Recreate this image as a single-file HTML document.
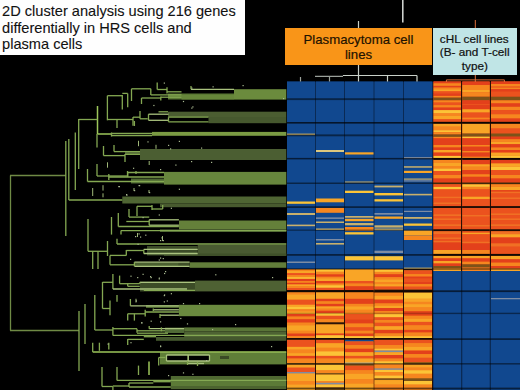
<!DOCTYPE html>
<html><head><meta charset="utf-8">
<style>
html,body{margin:0;padding:0;background:#000;}
body{width:520px;height:390px;position:relative;overflow:hidden;font-family:"Liberation Sans",sans-serif;}
.abs{position:absolute;}
#title{left:0;top:0;width:245.3px;height:55.4px;background:#fefefe;}
#title div{position:absolute;left:2.1px;font-size:14.6px;color:#111;white-space:nowrap;line-height:17px;-webkit-text-stroke:0.1px #111;}
#pbox{left:285px;top:27.8px;width:147px;height:36.8px;background:#f99518;color:#1e1200;-webkit-text-stroke:0.2px #1e1200;font-size:13.2px;text-align:center;line-height:15px;}
#cbox{left:433px;top:28px;width:83.5px;height:47px;background:#c0e5e6;color:#111;-webkit-text-stroke:0.2px #111;font-size:10.7px;text-align:center;line-height:13.6px;}
#cbox span{display:inline-block;transform:scaleX(1.1);transform-origin:50% 50%;white-space:nowrap;}
svg{position:absolute;left:0;top:0;}
</style></head><body>
<svg width="520" height="390" viewBox="0 0 520 390">
<g id="dend">
<rect x="168.0" y="93.5" width="66.0" height="6.0" fill="#5b7934"/>
<rect x="234.0" y="89.2" width="52.3" height="10.4" fill="#6b8b3d"/>
<rect x="181.5" y="95.0" width="52.5" height="4.5" fill="#66863a"/>
<rect x="168.0" y="111.7" width="118.3" height="5.3" fill="#4b5d31"/>
<rect x="208.5" y="117.0" width="77.8" height="6.2" fill="#46582e"/>
<rect x="152.0" y="131.9" width="134.3" height="3.9" fill="#7a9a42"/>
<rect x="140.0" y="149.0" width="146.3" height="11.0" fill="#4b5e32"/>
<rect x="125.0" y="152.0" width="15.0" height="3.0" fill="#4a5d30"/>
<rect x="131.0" y="178.5" width="33.0" height="5.0" fill="#4d6632"/>
<rect x="164.0" y="171.9" width="122.3" height="12.7" fill="#67863d"/>
<rect x="122.3" y="196.5" width="164.0" height="7.0" fill="#4f6533"/>
<rect x="160.0" y="203.5" width="126.3" height="3.7" fill="#485a2f"/>
<rect x="179.0" y="220.5" width="107.3" height="9.0" fill="#64803a"/>
<rect x="160.0" y="229.5" width="126.3" height="2.3" fill="#58723a"/>
<rect x="147.0" y="246.0" width="50.7" height="9.5" fill="#3c4c28"/>
<rect x="197.7" y="244.8" width="88.6" height="10.7" fill="#495a31"/>
<rect x="164.0" y="253.5" width="122.3" height="2.5" fill="#3f5029"/>
<rect x="189.6" y="262.3" width="96.7" height="5.5" fill="#627d3a"/>
<rect x="178.9" y="262.5" width="10.7" height="3.5" fill="#3f5029"/>
<rect x="134.4" y="262.5" width="44.5" height="3.5" fill="#4a6030"/>
<rect x="140.0" y="281.5" width="55.0" height="10.0" fill="#3c4c27"/>
<rect x="195.0" y="280.6" width="91.3" height="10.8" fill="#4e6133"/>
<rect x="178.9" y="304.8" width="107.4" height="11.4" fill="#6a8a3f"/>
<rect x="146.0" y="305.2" width="32.9" height="2.6" fill="#5f7d38"/>
<rect x="165.0" y="327.6" width="19.2" height="5.4" fill="#506a35"/>
<rect x="184.2" y="327.4" width="102.1" height="4.1" fill="#597437"/>
<rect x="184.2" y="331.5" width="102.1" height="5.5" fill="#4e6333"/>
<rect x="156.0" y="337.0" width="130.3" height="3.8" fill="#44572d"/>
<rect x="160.0" y="352.2" width="126.3" height="12.2" fill="#5f7e38"/>
<rect x="167.0" y="355.0" width="20.5" height="6.0" fill="#000000"/>
<rect x="189.0" y="355.0" width="20.0" height="6.0" fill="#000000"/>
<rect x="220.0" y="356.0" width="9.0" height="3.0" fill="#3a4a25"/>
<rect x="170.8" y="376.0" width="115.5" height="4.0" fill="#4f6832"/>
<rect x="170.8" y="380.0" width="115.5" height="6.0" fill="#5c7a37"/>
<rect x="170.8" y="386.0" width="115.5" height="3.2" fill="#4c632f"/>
<path d="M107.4 95.7V120.3" stroke="#84a852" stroke-width="1.3"/>
<path d="M107.4 95.7H122.3" stroke="#84a852" stroke-width="1.3"/>
<path d="M122.3 95.0V109.5" stroke="#84a852" stroke-width="1.3"/>
<path d="M122.3 93.4H127.7" stroke="#84a852" stroke-width="1.3"/>
<path d="M127.7 93.4V107.2" stroke="#84a852" stroke-width="1.3"/>
<path d="M131.5 88.8V101.0" stroke="#84a852" stroke-width="1.3"/>
<path d="M131.5 88.8H150.8" stroke="#84a852" stroke-width="1.3"/>
<path d="M150.8 88.8V95.0" stroke="#84a852" stroke-width="1.3"/>
<path d="M150.8 94.9H181.5" stroke="#84a852" stroke-width="1.3"/>
<path d="M157.2 82.6V89.5" stroke="#84a852" stroke-width="1.3"/>
<path d="M157.2 89.5H167.0" stroke="#84a852" stroke-width="1.3"/>
<path d="M167.0 87.2V93.4" stroke="#84a852" stroke-width="1.3"/>
<path d="M167.0 91.8H181.5" stroke="#84a852" stroke-width="1.3"/>
<path d="M141.5 98.0V104.0" stroke="#84a852" stroke-width="1.3"/>
<path d="M141.5 98.0H160.8" stroke="#84a852" stroke-width="1.3"/>
<path d="M160.8 96.5V100.5" stroke="#84a852" stroke-width="1.3"/>
<path d="M160.8 97.2H181.5" stroke="#84a852" stroke-width="1.3"/>
<path d="M107.4 119.5H133.0" stroke="#84a852" stroke-width="1.3"/>
<path d="M117.0 119.5V128.0" stroke="#84a852" stroke-width="1.3"/>
<path d="M133.0 117.0V125.7" stroke="#84a852" stroke-width="1.3"/>
<path d="M133.0 117.2H140.0" stroke="#84a852" stroke-width="1.3"/>
<path d="M140.0 111.0V118.8" stroke="#84a852" stroke-width="1.3"/>
<path d="M140.0 118.8H147.7" stroke="#84a852" stroke-width="1.3"/>
<path d="M148.5 114.2V120.3" stroke="#84a852" stroke-width="1.3"/>
<path d="M148.5 114.2H168.5" stroke="#a9c27e" stroke-width="1.3"/>
<path d="M148.5 120.3H168.5" stroke="#a9c27e" stroke-width="1.3"/>
<path d="M168.5 117.2V121.8" stroke="#84a852" stroke-width="1.3"/>
<path d="M168.5 117.2H208.5" stroke="#84a852" stroke-width="1.3"/>
<path d="M168.5 121.8H208.5" stroke="#84a852" stroke-width="1.3"/>
<path d="M158.5 111.8H168.0" stroke="#84a852" stroke-width="1.3"/>
<path d="M10.5 175.5V330.5" stroke="#6f8a45" stroke-width="1.3"/>
<path d="M10.0 175.5H65.8" stroke="#6f8a45" stroke-width="1.3"/>
<path d="M10.0 330.5H79.0" stroke="#6f8a45" stroke-width="1.3"/>
<path d="M65.8 141.0V236.0" stroke="#84a852" stroke-width="1.3"/>
<path d="M68.8 139.0V200.0" stroke="#84a852" stroke-width="1.3"/>
<path d="M75.3 132.5V190.0" stroke="#84a852" stroke-width="1.3"/>
<path d="M78.7 119.0V169.0" stroke="#84a852" stroke-width="1.3"/>
<path d="M87.5 169.0V181.5" stroke="#84a852" stroke-width="1.3"/>
<path d="M87.5 181.5H164.0" stroke="#84a852" stroke-width="1.3"/>
<path d="M97.5 106.0V134.0" stroke="#9cc65a" stroke-width="1.5"/>
<path d="M97.0 134.0V147.4" stroke="#84a852" stroke-width="1.3"/>
<path d="M78.7 119.5H97.5" stroke="#84a852" stroke-width="1.3"/>
<path d="M97.5 134.0H111.5" stroke="#9cc65a" stroke-width="1.5"/>
<path d="M111.5 132.5V136.5" stroke="#84a852" stroke-width="1.3"/>
<path d="M111.5 133.3H152.0" stroke="#84a852" stroke-width="1.3"/>
<path d="M111.5 135.5H152.0" stroke="#84a852" stroke-width="1.3"/>
<path d="M97.0 164.0V176.0" stroke="#84a852" stroke-width="1.3"/>
<path d="M97.0 176.0H127.7" stroke="#84a852" stroke-width="1.3"/>
<path d="M127.7 172.5V177.0" stroke="#84a852" stroke-width="1.3"/>
<path d="M127.7 172.5H164.0" stroke="#84a852" stroke-width="1.3"/>
<path d="M108.8 177.0H164.0" stroke="#84a852" stroke-width="1.3"/>
<path d="M108.8 174.0V180.0" stroke="#84a852" stroke-width="1.3"/>
<path d="M191.0 89.3H234.0" stroke="#a9c27e" stroke-width="1.3"/>
<path d="M191.0 86.0V89.3" stroke="#84a852" stroke-width="1.3"/>
<path d="M103.5 146.0V155.6" stroke="#84a852" stroke-width="1.3"/>
<path d="M103.5 155.6H125.0" stroke="#84a852" stroke-width="1.3"/>
<path d="M125.0 154.0V162.0" stroke="#84a852" stroke-width="1.3"/>
<path d="M125.0 154.3H140.0" stroke="#84a852" stroke-width="1.3"/>
<path d="M114.0 145.0V151.6" stroke="#84a852" stroke-width="1.3"/>
<path d="M114.0 151.6H140.0" stroke="#84a852" stroke-width="1.3"/>
<path d="M134.4 121.0V126.0" stroke="#84a852" stroke-width="1.3"/>
<path d="M68.8 200.0H122.3" stroke="#84a852" stroke-width="1.3"/>
<path d="M127.5 171.0V176.0" stroke="#84a852" stroke-width="1.3"/>
<path d="M136.0 171.0V174.0" stroke="#84a852" stroke-width="1.3"/>
<path d="M137.0 206.3V216.0" stroke="#84a852" stroke-width="1.3"/>
<path d="M137.0 206.3H152.0" stroke="#84a852" stroke-width="1.3"/>
<path d="M152.0 205.0V210.0" stroke="#84a852" stroke-width="1.3"/>
<path d="M152.0 209.0H162.7" stroke="#84a852" stroke-width="1.3"/>
<path d="M162.7 205.0V209.0" stroke="#84a852" stroke-width="1.3"/>
<path d="M129.0 209.0V217.0" stroke="#84a852" stroke-width="1.3"/>
<path d="M118.3 213.0V226.5" stroke="#84a852" stroke-width="1.3"/>
<path d="M111.5 217.0V234.6" stroke="#84a852" stroke-width="1.3"/>
<path d="M129.0 217.1H149.2" stroke="#84a852" stroke-width="1.3"/>
<path d="M149.2 219.8V225.2" stroke="#84a852" stroke-width="1.3"/>
<path d="M149.2 219.8H178.9" stroke="#a9c27e" stroke-width="1.3"/>
<path d="M149.2 225.2H178.9" stroke="#a9c27e" stroke-width="1.3"/>
<path d="M126.3 221.5H149.2" stroke="#84a852" stroke-width="1.3"/>
<path d="M118.3 226.5H178.9" stroke="#84a852" stroke-width="1.3"/>
<path d="M121.0 230.6H286.3" stroke="#84a852" stroke-width="1.3"/>
<path d="M121.0 230.6V234.6" stroke="#84a852" stroke-width="1.3"/>
<path d="M117.0 238.7V244.0" stroke="#84a852" stroke-width="1.3"/>
<path d="M117.0 244.0H286.3" stroke="#84a852" stroke-width="1.3"/>
<path d="M143.8 249.4V253.5" stroke="#84a852" stroke-width="1.3"/>
<path d="M143.8 249.4H197.7" stroke="#a9c27e" stroke-width="1.3"/>
<path d="M143.8 253.5H197.7" stroke="#a9c27e" stroke-width="1.3"/>
<path d="M107.5 241.0V256.0" stroke="#84a852" stroke-width="1.3"/>
<path d="M88.0 251.3H107.5" stroke="#84a852" stroke-width="1.3"/>
<path d="M88.0 219.0V251.3" stroke="#84a852" stroke-width="1.3"/>
<path d="M92.7 251.0V269.0" stroke="#84a852" stroke-width="1.3"/>
<path d="M98.0 251.0V269.0" stroke="#84a852" stroke-width="1.3"/>
<path d="M110.0 255.4H126.3" stroke="#84a852" stroke-width="1.3"/>
<path d="M110.0 255.4V264.8" stroke="#84a852" stroke-width="1.3"/>
<path d="M126.3 250.0V255.4" stroke="#84a852" stroke-width="1.3"/>
<path d="M126.3 250.5H143.8" stroke="#84a852" stroke-width="1.3"/>
<path d="M110.0 264.8H134.4" stroke="#84a852" stroke-width="1.3"/>
<path d="M134.4 262.1H189.6" stroke="#a9c27e" stroke-width="1.3"/>
<path d="M134.4 266.3H189.6" stroke="#a9c27e" stroke-width="1.3"/>
<path d="M134.4 262.1V266.3" stroke="#84a852" stroke-width="1.3"/>
<path d="M79.0 311.0V371.0" stroke="#84a852" stroke-width="1.3"/>
<path d="M85.0 304.0V344.0" stroke="#84a852" stroke-width="1.3"/>
<path d="M94.8 295.0V330.0" stroke="#84a852" stroke-width="1.3"/>
<path d="M94.8 330.0H112.9" stroke="#84a852" stroke-width="1.3"/>
<path d="M102.5 282.0V308.5" stroke="#84a852" stroke-width="1.3"/>
<path d="M102.5 282.3H112.9" stroke="#84a852" stroke-width="1.3"/>
<path d="M102.5 308.5H110.0" stroke="#84a852" stroke-width="1.3"/>
<path d="M112.9 274.0V289.0" stroke="#84a852" stroke-width="1.3"/>
<path d="M119.6 275.6V283.7" stroke="#84a852" stroke-width="1.3"/>
<path d="M119.6 283.7H139.8" stroke="#84a852" stroke-width="1.3"/>
<path d="M139.8 282.3H195.0" stroke="#a9c27e" stroke-width="1.3"/>
<path d="M139.8 282.3V283.7" stroke="#84a852" stroke-width="1.3"/>
<path d="M127.7 286.3H139.8" stroke="#84a852" stroke-width="1.3"/>
<path d="M127.7 283.7V286.3" stroke="#84a852" stroke-width="1.3"/>
<path d="M112.9 289.0H187.0" stroke="#a9c27e" stroke-width="1.3"/>
<path d="M143.8 290.4H195.0" stroke="#84a852" stroke-width="1.3"/>
<path d="M110.0 300.4V315.2" stroke="#84a852" stroke-width="1.3"/>
<path d="M117.0 295.0V301.7" stroke="#84a852" stroke-width="1.3"/>
<path d="M130.4 299.0V305.8" stroke="#84a852" stroke-width="1.3"/>
<path d="M130.4 305.8H178.9" stroke="#a9c27e" stroke-width="1.3"/>
<path d="M153.3 309.8H178.9" stroke="#a9c27e" stroke-width="1.3"/>
<path d="M153.3 308.5V311.0" stroke="#84a852" stroke-width="1.3"/>
<path d="M145.2 312.0H178.9" stroke="#84a852" stroke-width="1.3"/>
<path d="M145.2 309.8V316.5" stroke="#84a852" stroke-width="1.3"/>
<path d="M160.0 315.2H178.9" stroke="#a9c27e" stroke-width="1.3"/>
<path d="M160.0 314.0V318.0" stroke="#84a852" stroke-width="1.3"/>
<path d="M127.7 313.8V320.6" stroke="#84a852" stroke-width="1.3"/>
<path d="M134.4 313.8V320.6" stroke="#84a852" stroke-width="1.3"/>
<path d="M127.7 313.8H145.2" stroke="#84a852" stroke-width="1.3"/>
<path d="M112.9 327.0V335.4" stroke="#84a852" stroke-width="1.3"/>
<path d="M112.9 328.7H137.0" stroke="#84a852" stroke-width="1.3"/>
<path d="M137.0 328.7V332.7" stroke="#84a852" stroke-width="1.3"/>
<path d="M149.2 328.7H184.2" stroke="#a9c27e" stroke-width="1.3"/>
<path d="M149.2 326.0V328.7" stroke="#84a852" stroke-width="1.3"/>
<path d="M137.0 330.8H165.0" stroke="#84a852" stroke-width="1.3"/>
<path d="M137.0 333.2H168.0" stroke="#84a852" stroke-width="1.3"/>
<path d="M161.4 327.3V331.3" stroke="#84a852" stroke-width="1.3"/>
<path d="M112.9 335.4H286.3" stroke="#84a852" stroke-width="1.3"/>
<path d="M143.8 336.7H156.0" stroke="#84a852" stroke-width="1.3"/>
<path d="M127.7 339.0V345.0" stroke="#84a852" stroke-width="1.3"/>
<path d="M127.7 339.4H143.8" stroke="#84a852" stroke-width="1.3"/>
<path d="M92.7 352.1H286.3" stroke="#9cc65a" stroke-width="1.5"/>
<path d="M92.7 342.7V352.1" stroke="#84a852" stroke-width="1.3"/>
<path d="M99.4 342.7V350.8" stroke="#84a852" stroke-width="1.3"/>
<path d="M108.8 342.7V349.4" stroke="#84a852" stroke-width="1.3"/>
<path d="M158.7 357.5V365.6" stroke="#84a852" stroke-width="1.3"/>
<path d="M158.7 357.5H165.4" stroke="#84a852" stroke-width="1.3"/>
<path d="M149.0 361.5V375.0" stroke="#9cc65a" stroke-width="1.5"/>
<path d="M166.5 355.0H209.5" stroke="#a9c27e" stroke-width="1.3"/>
<path d="M166.5 361.0H209.5" stroke="#a9c27e" stroke-width="1.3"/>
<path d="M166.5 355.0V361.0" stroke="#a9c27e" stroke-width="1.3"/>
<path d="M188.2 355.0V361.0" stroke="#a9c27e" stroke-width="1.3"/>
<path d="M209.5 355.0V361.0" stroke="#a9c27e" stroke-width="1.3"/>
<path d="M187.5 363.5H204.0" stroke="#a9c27e" stroke-width="1.3"/>
<path d="M187.5 361.0V365.0" stroke="#84a852" stroke-width="1.3"/>
<path d="M197.5 362.0V366.0" stroke="#84a852" stroke-width="1.3"/>
<path d="M102.0 367.0V386.5" stroke="#84a852" stroke-width="1.3"/>
<path d="M102.0 386.5H112.9" stroke="#84a852" stroke-width="1.3"/>
<path d="M117.0 367.0V380.4" stroke="#84a852" stroke-width="1.3"/>
<path d="M117.0 380.4H286.3" stroke="#84a852" stroke-width="1.3"/>
<path d="M138.5 365.6V375.0" stroke="#84a852" stroke-width="1.3"/>
<path d="M112.9 386.5V390.0" stroke="#84a852" stroke-width="1.3"/>
<path d="M129.0 383.0H153.3" stroke="#84a852" stroke-width="1.3"/>
<path d="M129.0 387.0H170.8" stroke="#84a852" stroke-width="1.3"/>
<path d="M129.0 383.0V387.0" stroke="#84a852" stroke-width="1.3"/>
<path d="M153.3 381.7H170.8" stroke="#84a852" stroke-width="1.3"/>
<path d="M112.9 386.0H129.0" stroke="#84a852" stroke-width="1.3"/>
<path d="M138.5 140.8V146.2" stroke="#9fb878" stroke-width="1"/>
<path d="M156.0 144.8V148.8" stroke="#9fb878" stroke-width="1"/>
<path d="M107.5 162.3V167.7" stroke="#9fb878" stroke-width="1"/>
<path d="M149.2 161.0V165.0" stroke="#9fb878" stroke-width="1"/>
<path d="M92.7 188.0V196.0" stroke="#9fb878" stroke-width="1"/>
<path d="M103.0 185.2V190.6" stroke="#9fb878" stroke-width="1"/>
<path d="M103.0 193.3V197.3" stroke="#9fb878" stroke-width="1"/>
<path d="M134.0 188.0V191.0" stroke="#9fb878" stroke-width="1"/>
<path d="M149.0 190.0V193.0" stroke="#9fb878" stroke-width="1"/>
<path d="M136.0 298.75V302.5" stroke="#9fb878" stroke-width="1"/>
<path d="M162.5 236.0V241.0" stroke="#9fb878" stroke-width="1"/>
<path d="M137.5 233.0V237.0" stroke="#9fb878" stroke-width="1"/>
<rect x="163.75" y="82.5" width="1.2" height="1.2" fill="#a8b890"/>
<rect x="191.25" y="87.5" width="1.2" height="1.2" fill="#a8b890"/>
<rect x="212.5" y="86.25" width="1.2" height="1.2" fill="#a8b890"/>
<rect x="242.5" y="85" width="1.2" height="1.2" fill="#a8b890"/>
<rect x="191.25" y="107.5" width="1.2" height="1.2" fill="#a8b890"/>
<rect x="153.3" y="104.9" width="1.2" height="1.2" fill="#a8b890"/>
<rect x="182.9" y="100.9" width="1.2" height="1.2" fill="#a8b890"/>
<rect x="192.3" y="106.3" width="1.2" height="1.2" fill="#a8b890"/>
<rect x="147.4" y="141.3" width="1.2" height="1.2" fill="#a8b890"/>
<rect x="168" y="144.8" width="1.2" height="1.2" fill="#a8b890"/>
<rect x="170" y="148.3" width="1.2" height="1.2" fill="#a8b890"/>
<rect x="178.8" y="140.8" width="1.2" height="1.2" fill="#a8b890"/>
<rect x="201" y="147.5" width="1.2" height="1.2" fill="#a8b890"/>
<rect x="191" y="161" width="1.2" height="1.2" fill="#a8b890"/>
<rect x="175.3" y="164.5" width="1.2" height="1.2" fill="#a8b890"/>
<rect x="211" y="161.8" width="1.2" height="1.2" fill="#a8b890"/>
<rect x="133" y="167.7" width="1.2" height="1.2" fill="#a8b890"/>
<rect x="160" y="169" width="1.2" height="1.2" fill="#a8b890"/>
<rect x="118.3" y="186" width="1.2" height="1.2" fill="#a8b890"/>
<rect x="138.5" y="185" width="1.2" height="1.2" fill="#a8b890"/>
<rect x="126.3" y="194.6" width="1.2" height="1.2" fill="#a8b890"/>
<rect x="149" y="192" width="1.2" height="1.2" fill="#a8b890"/>
<rect x="178.8" y="188.7" width="1.2" height="1.2" fill="#a8b890"/>
<rect x="118.75" y="186" width="1.2" height="1.2" fill="#a8b890"/>
<rect x="126" y="194" width="1.2" height="1.2" fill="#a8b890"/>
<rect x="134" y="190" width="1.2" height="1.2" fill="#a8b890"/>
<rect x="139" y="185" width="1.2" height="1.2" fill="#a8b890"/>
<rect x="142.5" y="217" width="1.2" height="1.2" fill="#a8b890"/>
<rect x="158.7" y="214.4" width="1.2" height="1.2" fill="#a8b890"/>
<rect x="170.8" y="207.7" width="1.2" height="1.2" fill="#a8b890"/>
<rect x="138.5" y="233.3" width="1.2" height="1.2" fill="#a8b890"/>
<rect x="161.4" y="237.3" width="1.2" height="1.2" fill="#a8b890"/>
<rect x="162.7" y="240" width="1.2" height="1.2" fill="#a8b890"/>
<rect x="145.2" y="234.6" width="1.2" height="1.2" fill="#a8b890"/>
<rect x="135" y="236" width="1.2" height="1.2" fill="#a8b890"/>
<rect x="140" y="236.5" width="1.2" height="1.2" fill="#a8b890"/>
<rect x="160" y="240" width="1.2" height="1.2" fill="#a8b890"/>
<rect x="137.5" y="243.75" width="1.2" height="1.2" fill="#a8b890"/>
<rect x="160" y="257.5" width="1.2" height="1.2" fill="#a8b890"/>
<rect x="130" y="258.75" width="1.2" height="1.2" fill="#a8b890"/>
<rect x="142.5" y="273.75" width="1.2" height="1.2" fill="#a8b890"/>
<rect x="150" y="276" width="1.2" height="1.2" fill="#a8b890"/>
<rect x="158.75" y="277.5" width="1.2" height="1.2" fill="#a8b890"/>
<rect x="165" y="271" width="1.2" height="1.2" fill="#a8b890"/>
<rect x="130.4" y="275.6" width="1.2" height="1.2" fill="#a8b890"/>
<rect x="137.1" y="277" width="1.2" height="1.2" fill="#a8b890"/>
<rect x="150.6" y="277" width="1.2" height="1.2" fill="#a8b890"/>
<rect x="158.7" y="278.3" width="1.2" height="1.2" fill="#a8b890"/>
<rect x="162.7" y="258" width="1.2" height="1.2" fill="#a8b890"/>
<rect x="158.7" y="259.4" width="1.2" height="1.2" fill="#a8b890"/>
<rect x="164" y="272.9" width="1.2" height="1.2" fill="#a8b890"/>
<rect x="215.2" y="274.2" width="1.2" height="1.2" fill="#a8b890"/>
<rect x="164" y="294.4" width="1.2" height="1.2" fill="#a8b890"/>
<rect x="170.8" y="293.1" width="1.2" height="1.2" fill="#a8b890"/>
<rect x="163.75" y="295" width="1.2" height="1.2" fill="#a8b890"/>
<rect x="163.75" y="301.25" width="1.2" height="1.2" fill="#a8b890"/>
<rect x="141.25" y="322.5" width="1.2" height="1.2" fill="#a8b890"/>
<rect x="160" y="321.25" width="1.2" height="1.2" fill="#a8b890"/>
<rect x="135.8" y="300.4" width="1.2" height="1.2" fill="#a8b890"/>
<rect x="166.7" y="300.4" width="1.2" height="1.2" fill="#a8b890"/>
<rect x="182.9" y="303" width="1.2" height="1.2" fill="#a8b890"/>
<rect x="199" y="303" width="1.2" height="1.2" fill="#a8b890"/>
<rect x="141.2" y="322" width="1.2" height="1.2" fill="#a8b890"/>
<rect x="150.6" y="320.6" width="1.2" height="1.2" fill="#a8b890"/>
<rect x="180.2" y="317.9" width="1.2" height="1.2" fill="#a8b890"/>
<rect x="186.9" y="323.3" width="1.2" height="1.2" fill="#a8b890"/>
<rect x="107.5" y="343.5" width="1.2" height="1.2" fill="#a8b890"/>
<rect x="130.4" y="342.1" width="1.2" height="1.2" fill="#a8b890"/>
<rect x="160" y="346" width="1.2" height="1.2" fill="#a8b890"/>
<rect x="182.9" y="372.3" width="1.2" height="1.2" fill="#a8b890"/>
<rect x="192.3" y="373.7" width="1.2" height="1.2" fill="#a8b890"/>
<rect x="168" y="375" width="1.2" height="1.2" fill="#a8b890"/>
<rect x="160" y="345.4" width="1.2" height="1.2" fill="#a8b890"/>
<rect x="271" y="346" width="1.2" height="1.2" fill="#a8b890"/>
<rect x="206" y="360" width="1.2" height="1.2" fill="#a8b890"/>
<rect x="235" y="324" width="1.2" height="1.2" fill="#a8b890"/>
<rect x="212" y="329" width="1.2" height="1.2" fill="#a8b890"/>
<rect x="272" y="277" width="1.2" height="1.2" fill="#a8b890"/>
<rect x="283" y="98" width="1.2" height="1.2" fill="#a8b890"/>
</g>
<g id="heat">
<rect x="287.0" y="81.50" width="146.0" height="187.50" fill="#0a2a55"/>
<rect x="287.0" y="269.00" width="146.0" height="121.00" fill="#2a1005"/>
<rect x="433.0" y="81.50" width="87.0" height="189.50" fill="#2a1005"/>
<rect x="433.0" y="271.00" width="87.0" height="119.00" fill="#0a2a55"/>
<rect x="287.0" y="81.50" width="28.0" height="187.50" fill="#11488f"/>
<rect x="287.0" y="269.00" width="28.0" height="121.00" fill="#f6861f"/>
<rect x="316.0" y="81.50" width="28.0" height="187.50" fill="#11488f"/>
<rect x="316.0" y="269.00" width="28.0" height="121.00" fill="#f6861f"/>
<rect x="345.0" y="81.50" width="28.5" height="187.50" fill="#11488f"/>
<rect x="345.0" y="269.00" width="28.5" height="121.00" fill="#f6861f"/>
<rect x="374.5" y="81.50" width="28.5" height="187.50" fill="#11488f"/>
<rect x="374.5" y="269.00" width="28.5" height="121.00" fill="#f6861f"/>
<rect x="404.0" y="81.50" width="28.0" height="187.50" fill="#11488f"/>
<rect x="404.0" y="269.00" width="28.0" height="121.00" fill="#f6861f"/>
<rect x="433.5" y="81.50" width="27.5" height="189.50" fill="#eb521e"/>
<rect x="433.5" y="271.00" width="27.5" height="119.00" fill="#11488f"/>
<rect x="462.3" y="81.50" width="27.4" height="189.50" fill="#eb521e"/>
<rect x="462.3" y="271.00" width="27.4" height="119.00" fill="#11488f"/>
<rect x="491.0" y="81.50" width="29.0" height="189.50" fill="#eb521e"/>
<rect x="491.0" y="271.00" width="29.0" height="119.00" fill="#11488f"/>
<rect x="433.5" y="81.50" width="27.5" height="1.80" fill="#e3401b"/>
<rect x="433.5" y="83.30" width="27.5" height="2.60" fill="#f6861f"/>
<rect x="433.5" y="85.90" width="27.5" height="1.60" fill="#e3401b"/>
<rect x="433.5" y="87.50" width="27.5" height="1.70" fill="#f6861f"/>
<rect x="433.5" y="89.20" width="27.5" height="2.20" fill="#f9a526"/>
<rect x="433.5" y="91.40" width="27.5" height="2.10" fill="#eb521e"/>
<rect x="433.5" y="93.50" width="27.5" height="2.40" fill="#e3401b"/>
<rect x="433.5" y="95.90" width="27.5" height="1.70" fill="#f6861f"/>
<rect x="433.5" y="97.60" width="27.5" height="2.80" fill="#7d5218"/>
<rect x="433.5" y="100.40" width="27.5" height="2.20" fill="#f6861f"/>
<rect x="433.5" y="102.60" width="27.5" height="2.50" fill="#eb521e"/>
<rect x="433.5" y="105.10" width="27.5" height="2.50" fill="#f6861f"/>
<rect x="433.5" y="107.60" width="27.5" height="2.50" fill="#e3401b"/>
<rect x="433.5" y="110.10" width="27.5" height="3.40" fill="#fcc437"/>
<rect x="433.5" y="113.50" width="27.5" height="2.50" fill="#f6861f"/>
<rect x="433.5" y="116.00" width="27.5" height="3.30" fill="#f9a526"/>
<rect x="433.5" y="119.30" width="27.5" height="2.50" fill="#eb521e"/>
<rect x="433.5" y="121.80" width="27.5" height="2.00" fill="#2c1408"/>
<rect x="433.5" y="123.80" width="27.5" height="3.00" fill="#f9a526"/>
<rect x="433.5" y="126.80" width="27.5" height="3.40" fill="#f6861f"/>
<rect x="433.5" y="130.20" width="27.5" height="2.00" fill="#fcc437"/>
<rect x="433.5" y="132.20" width="27.5" height="2.20" fill="#f6861f"/>
<rect x="433.5" y="134.40" width="27.5" height="2.50" fill="#7d5218"/>
<rect x="433.5" y="136.90" width="27.5" height="1.40" fill="#f6861f"/>
<rect x="433.5" y="138.30" width="27.5" height="6.70" fill="#e3401b"/>
<rect x="433.5" y="145.00" width="27.5" height="2.50" fill="#f6861f"/>
<rect x="433.5" y="147.50" width="27.5" height="2.50" fill="#e3401b"/>
<rect x="433.5" y="150.00" width="27.5" height="2.60" fill="#f9a526"/>
<rect x="433.5" y="152.60" width="27.5" height="3.30" fill="#e3401b"/>
<rect x="433.5" y="155.90" width="27.5" height="2.10" fill="#fcc437"/>
<rect x="433.5" y="158.00" width="27.5" height="2.00" fill="#2c1408"/>
<rect x="433.5" y="160.00" width="27.5" height="2.60" fill="#f6861f"/>
<rect x="433.5" y="162.60" width="27.5" height="3.40" fill="#f9a526"/>
<rect x="433.5" y="166.00" width="27.5" height="2.50" fill="#f6861f"/>
<rect x="433.5" y="168.50" width="27.5" height="2.50" fill="#fcc437"/>
<rect x="433.5" y="171.00" width="27.5" height="4.00" fill="#eb521e"/>
<rect x="433.5" y="175.00" width="27.5" height="3.50" fill="#f6861f"/>
<rect x="433.5" y="178.50" width="27.5" height="4.20" fill="#e3401b"/>
<rect x="433.5" y="182.70" width="27.5" height="1.70" fill="#7d5218"/>
<rect x="433.5" y="184.40" width="27.5" height="2.50" fill="#eb521e"/>
<rect x="433.5" y="186.90" width="27.5" height="2.50" fill="#fcc437"/>
<rect x="433.5" y="189.40" width="27.5" height="7.30" fill="#eb521e"/>
<rect x="433.5" y="196.70" width="27.5" height="1.70" fill="#f07024"/>
<rect x="433.5" y="198.40" width="27.5" height="4.10" fill="#eb521e"/>
<rect x="433.5" y="202.50" width="27.5" height="1.70" fill="#f07024"/>
<rect x="433.5" y="204.20" width="27.5" height="2.00" fill="#eb521e"/>
<rect x="433.5" y="206.20" width="27.5" height="1.70" fill="#2c1408"/>
<rect x="433.5" y="207.90" width="27.5" height="6.40" fill="#eb521e"/>
<rect x="433.5" y="214.30" width="27.5" height="1.70" fill="#f07024"/>
<rect x="433.5" y="216.00" width="27.5" height="2.40" fill="#eb521e"/>
<rect x="433.5" y="218.40" width="27.5" height="1.70" fill="#f07024"/>
<rect x="433.5" y="220.10" width="27.5" height="4.20" fill="#eb521e"/>
<rect x="433.5" y="224.30" width="27.5" height="1.70" fill="#f07024"/>
<rect x="433.5" y="226.00" width="27.5" height="3.30" fill="#eb521e"/>
<rect x="433.5" y="229.30" width="27.5" height="2.00" fill="#2c1408"/>
<rect x="433.5" y="231.30" width="27.5" height="2.90" fill="#f07024"/>
<rect x="433.5" y="234.20" width="27.5" height="3.30" fill="#eb521e"/>
<rect x="433.5" y="237.50" width="27.5" height="1.50" fill="#f07024"/>
<rect x="433.5" y="239.00" width="27.5" height="2.00" fill="#eb521e"/>
<rect x="433.5" y="241.00" width="27.5" height="1.50" fill="#f07024"/>
<rect x="433.5" y="242.50" width="27.5" height="7.50" fill="#e3401b"/>
<rect x="433.5" y="250.00" width="27.5" height="3.90" fill="#f9a526"/>
<rect x="433.5" y="253.90" width="27.5" height="2.00" fill="#2c1408"/>
<rect x="433.5" y="255.90" width="27.5" height="2.50" fill="#f9a526"/>
<rect x="433.5" y="258.40" width="27.5" height="2.60" fill="#e3401b"/>
<rect x="433.5" y="261.00" width="27.5" height="2.50" fill="#f9a526"/>
<rect x="433.5" y="263.50" width="27.5" height="2.50" fill="#e3401b"/>
<rect x="433.5" y="266.00" width="27.5" height="2.20" fill="#7d5218"/>
<rect x="433.5" y="268.20" width="27.5" height="2.80" fill="#f9a526"/>
<rect x="462.3" y="81.50" width="27.4" height="3.50" fill="#e3401b"/>
<rect x="462.3" y="85.00" width="27.4" height="5.00" fill="#f6861f"/>
<rect x="462.3" y="90.00" width="27.4" height="2.50" fill="#f9a526"/>
<rect x="462.3" y="92.50" width="27.4" height="4.20" fill="#f6861f"/>
<rect x="462.3" y="96.70" width="27.4" height="3.70" fill="#7d5218"/>
<rect x="462.3" y="100.40" width="27.4" height="3.60" fill="#e3401b"/>
<rect x="462.3" y="104.00" width="27.4" height="1.00" fill="#eb521e"/>
<rect x="462.3" y="105.00" width="27.4" height="4.30" fill="#e3401b"/>
<rect x="462.3" y="109.30" width="27.4" height="3.30" fill="#f9a526"/>
<rect x="462.3" y="112.60" width="27.4" height="5.00" fill="#eb521e"/>
<rect x="462.3" y="117.60" width="27.4" height="1.90" fill="#f6861f"/>
<rect x="462.3" y="119.50" width="27.4" height="2.30" fill="#eb521e"/>
<rect x="462.3" y="121.80" width="27.4" height="2.00" fill="#2c1408"/>
<rect x="462.3" y="123.80" width="27.4" height="9.70" fill="#f9a526"/>
<rect x="462.3" y="133.50" width="27.4" height="3.20" fill="#7d5218"/>
<rect x="462.3" y="136.70" width="27.4" height="1.60" fill="#fcc437"/>
<rect x="462.3" y="138.30" width="27.4" height="6.70" fill="#e3401b"/>
<rect x="462.3" y="145.00" width="27.4" height="1.70" fill="#f6861f"/>
<rect x="462.3" y="146.70" width="27.4" height="4.30" fill="#e3401b"/>
<rect x="462.3" y="151.00" width="27.4" height="1.60" fill="#f6861f"/>
<rect x="462.3" y="152.60" width="27.4" height="4.10" fill="#e3401b"/>
<rect x="462.3" y="156.70" width="27.4" height="1.30" fill="#f6861f"/>
<rect x="462.3" y="158.00" width="27.4" height="2.00" fill="#2c1408"/>
<rect x="462.3" y="160.00" width="27.4" height="4.30" fill="#e3401b"/>
<rect x="462.3" y="164.30" width="27.4" height="2.50" fill="#f9a526"/>
<rect x="462.3" y="166.80" width="27.4" height="3.30" fill="#f6861f"/>
<rect x="462.3" y="170.10" width="27.4" height="4.20" fill="#e3401b"/>
<rect x="462.3" y="174.30" width="27.4" height="2.50" fill="#f6861f"/>
<rect x="462.3" y="176.80" width="27.4" height="5.90" fill="#e3401b"/>
<rect x="462.3" y="182.70" width="27.4" height="1.70" fill="#7d5218"/>
<rect x="462.3" y="184.40" width="27.4" height="2.50" fill="#fcc437"/>
<rect x="462.3" y="186.90" width="27.4" height="2.50" fill="#f6861f"/>
<rect x="462.3" y="189.40" width="27.4" height="7.30" fill="#eb521e"/>
<rect x="462.3" y="196.70" width="27.4" height="2.50" fill="#f9a526"/>
<rect x="462.3" y="199.20" width="27.4" height="7.00" fill="#eb521e"/>
<rect x="462.3" y="206.20" width="27.4" height="1.70" fill="#2c1408"/>
<rect x="462.3" y="207.90" width="27.4" height="7.10" fill="#eb521e"/>
<rect x="462.3" y="215.00" width="27.4" height="1.70" fill="#f07024"/>
<rect x="462.3" y="216.70" width="27.4" height="8.30" fill="#eb521e"/>
<rect x="462.3" y="225.00" width="27.4" height="1.70" fill="#f07024"/>
<rect x="462.3" y="226.70" width="27.4" height="2.60" fill="#eb521e"/>
<rect x="462.3" y="229.30" width="27.4" height="2.00" fill="#2c1408"/>
<rect x="462.3" y="231.30" width="27.4" height="1.40" fill="#eb521e"/>
<rect x="462.3" y="232.70" width="27.4" height="1.60" fill="#f9a526"/>
<rect x="462.3" y="234.30" width="27.4" height="7.40" fill="#eb521e"/>
<rect x="462.3" y="241.70" width="27.4" height="1.70" fill="#f07024"/>
<rect x="462.3" y="243.40" width="27.4" height="6.60" fill="#e3401b"/>
<rect x="462.3" y="250.00" width="27.4" height="3.90" fill="#f6861f"/>
<rect x="462.3" y="253.90" width="27.4" height="2.00" fill="#2c1408"/>
<rect x="462.3" y="255.90" width="27.4" height="2.50" fill="#f9a526"/>
<rect x="462.3" y="258.40" width="27.4" height="3.30" fill="#e3401b"/>
<rect x="462.3" y="261.70" width="27.4" height="2.60" fill="#f6861f"/>
<rect x="462.3" y="264.30" width="27.4" height="3.30" fill="#7d5218"/>
<rect x="462.3" y="267.60" width="27.4" height="3.40" fill="#f6861f"/>
<rect x="491.0" y="81.50" width="29.0" height="2.50" fill="#e3401b"/>
<rect x="491.0" y="84.00" width="29.0" height="2.70" fill="#f6861f"/>
<rect x="491.0" y="86.70" width="29.0" height="0.80" fill="#e3401b"/>
<rect x="491.0" y="87.50" width="29.0" height="1.70" fill="#f6861f"/>
<rect x="491.0" y="89.20" width="29.0" height="2.50" fill="#e3401b"/>
<rect x="491.0" y="91.70" width="29.0" height="5.00" fill="#eb521e"/>
<rect x="491.0" y="96.70" width="29.0" height="3.70" fill="#7d5218"/>
<rect x="491.0" y="100.40" width="29.0" height="3.00" fill="#f6861f"/>
<rect x="491.0" y="103.40" width="29.0" height="3.40" fill="#e3401b"/>
<rect x="491.0" y="106.80" width="29.0" height="3.30" fill="#f6861f"/>
<rect x="491.0" y="110.10" width="29.0" height="4.20" fill="#eb521e"/>
<rect x="491.0" y="114.30" width="29.0" height="4.20" fill="#f6861f"/>
<rect x="491.0" y="118.50" width="29.0" height="3.30" fill="#e3401b"/>
<rect x="491.0" y="121.80" width="29.0" height="2.00" fill="#2c1408"/>
<rect x="491.0" y="123.80" width="29.0" height="4.70" fill="#f6861f"/>
<rect x="491.0" y="128.50" width="29.0" height="5.00" fill="#eb521e"/>
<rect x="491.0" y="133.50" width="29.0" height="3.20" fill="#7d5218"/>
<rect x="491.0" y="136.70" width="29.0" height="2.50" fill="#e3401b"/>
<rect x="491.0" y="139.20" width="29.0" height="2.50" fill="#f6861f"/>
<rect x="491.0" y="141.70" width="29.0" height="2.50" fill="#f9a526"/>
<rect x="491.0" y="144.20" width="29.0" height="3.30" fill="#e3401b"/>
<rect x="491.0" y="147.50" width="29.0" height="2.50" fill="#f6861f"/>
<rect x="491.0" y="150.00" width="29.0" height="2.60" fill="#e3401b"/>
<rect x="491.0" y="152.60" width="29.0" height="3.30" fill="#f9a526"/>
<rect x="491.0" y="155.90" width="29.0" height="2.10" fill="#fcc437"/>
<rect x="491.0" y="158.00" width="29.0" height="2.00" fill="#2c1408"/>
<rect x="491.0" y="160.00" width="29.0" height="3.40" fill="#e3401b"/>
<rect x="491.0" y="163.40" width="29.0" height="3.40" fill="#f9a526"/>
<rect x="491.0" y="166.80" width="29.0" height="3.30" fill="#fcc437"/>
<rect x="491.0" y="170.10" width="29.0" height="4.90" fill="#eb521e"/>
<rect x="491.0" y="175.00" width="29.0" height="3.50" fill="#f6861f"/>
<rect x="491.0" y="178.50" width="29.0" height="4.20" fill="#e3401b"/>
<rect x="491.0" y="182.70" width="29.0" height="1.70" fill="#7d5218"/>
<rect x="491.0" y="184.40" width="29.0" height="2.50" fill="#f6861f"/>
<rect x="491.0" y="186.90" width="29.0" height="3.30" fill="#f9a526"/>
<rect x="491.0" y="190.20" width="29.0" height="1.50" fill="#e3401b"/>
<rect x="491.0" y="191.70" width="29.0" height="1.70" fill="#f07024"/>
<rect x="491.0" y="193.40" width="29.0" height="4.10" fill="#eb521e"/>
<rect x="491.0" y="197.50" width="29.0" height="1.70" fill="#f07024"/>
<rect x="491.0" y="199.20" width="29.0" height="7.00" fill="#eb521e"/>
<rect x="491.0" y="206.20" width="29.0" height="1.70" fill="#2c1408"/>
<rect x="491.0" y="207.90" width="29.0" height="5.50" fill="#eb521e"/>
<rect x="491.0" y="213.40" width="29.0" height="1.70" fill="#f07024"/>
<rect x="491.0" y="215.10" width="29.0" height="3.30" fill="#eb521e"/>
<rect x="491.0" y="218.40" width="29.0" height="1.70" fill="#f07024"/>
<rect x="491.0" y="220.10" width="29.0" height="4.20" fill="#eb521e"/>
<rect x="491.0" y="224.30" width="29.0" height="1.70" fill="#f07024"/>
<rect x="491.0" y="226.00" width="29.0" height="3.30" fill="#eb521e"/>
<rect x="491.0" y="229.30" width="29.0" height="2.00" fill="#2c1408"/>
<rect x="491.0" y="231.30" width="29.0" height="2.90" fill="#f07024"/>
<rect x="491.0" y="234.20" width="29.0" height="3.30" fill="#f9a526"/>
<rect x="491.0" y="237.50" width="29.0" height="5.90" fill="#e3401b"/>
<rect x="491.0" y="243.40" width="29.0" height="3.30" fill="#f07024"/>
<rect x="491.0" y="246.70" width="29.0" height="7.20" fill="#eb521e"/>
<rect x="491.0" y="253.90" width="29.0" height="2.00" fill="#2c1408"/>
<rect x="491.0" y="255.90" width="29.0" height="3.40" fill="#f9a526"/>
<rect x="491.0" y="259.30" width="29.0" height="3.30" fill="#e3401b"/>
<rect x="491.0" y="262.60" width="29.0" height="3.40" fill="#f6861f"/>
<rect x="491.0" y="266.00" width="29.0" height="2.50" fill="#e3401b"/>
<rect x="491.0" y="268.50" width="29.0" height="2.50" fill="#f9a526"/>
<rect x="287.0" y="269.20" width="28.0" height="1.70" fill="#f6861f"/>
<rect x="287.0" y="270.90" width="28.0" height="2.20" fill="#f9a526"/>
<rect x="287.0" y="273.10" width="28.0" height="2.10" fill="#eb521e"/>
<rect x="287.0" y="275.20" width="28.0" height="2.00" fill="#f6861f"/>
<rect x="287.0" y="277.20" width="28.0" height="1.70" fill="#fcc437"/>
<rect x="287.0" y="278.90" width="28.0" height="2.20" fill="#e3401b"/>
<rect x="287.0" y="281.10" width="28.0" height="1.70" fill="#f6861f"/>
<rect x="287.0" y="282.80" width="28.0" height="1.70" fill="#e3401b"/>
<rect x="287.0" y="284.50" width="28.0" height="1.70" fill="#f9a526"/>
<rect x="287.0" y="286.20" width="28.0" height="1.80" fill="#f6861f"/>
<rect x="287.0" y="288.00" width="28.0" height="2.00" fill="#eb521e"/>
<rect x="287.0" y="290.00" width="28.0" height="2.40" fill="#2c1408"/>
<rect x="287.0" y="292.40" width="28.0" height="2.20" fill="#f6861f"/>
<rect x="287.0" y="294.60" width="28.0" height="5.10" fill="#f9a526"/>
<rect x="287.0" y="299.70" width="28.0" height="5.10" fill="#eb521e"/>
<rect x="287.0" y="304.80" width="28.0" height="2.20" fill="#f9a526"/>
<rect x="287.0" y="307.00" width="28.0" height="2.30" fill="#fcc437"/>
<rect x="287.0" y="309.30" width="28.0" height="2.20" fill="#f6861f"/>
<rect x="287.0" y="311.50" width="28.0" height="2.50" fill="#f9a526"/>
<rect x="287.0" y="314.00" width="28.0" height="2.60" fill="#e3401b"/>
<rect x="287.0" y="316.60" width="28.0" height="2.60" fill="#f6861f"/>
<rect x="287.0" y="319.20" width="28.0" height="3.50" fill="#e3401b"/>
<rect x="287.0" y="322.70" width="28.0" height="2.70" fill="#f6861f"/>
<rect x="287.0" y="325.40" width="28.0" height="5.40" fill="#f9a526"/>
<rect x="287.0" y="330.80" width="28.0" height="2.70" fill="#f6861f"/>
<rect x="287.0" y="333.50" width="28.0" height="2.70" fill="#e3401b"/>
<rect x="287.0" y="336.20" width="28.0" height="1.80" fill="#f6861f"/>
<rect x="287.0" y="338.00" width="28.0" height="1.70" fill="#2c1408"/>
<rect x="287.0" y="339.70" width="28.0" height="7.20" fill="#eb521e"/>
<rect x="287.0" y="346.90" width="28.0" height="2.70" fill="#f9a526"/>
<rect x="287.0" y="349.60" width="28.0" height="3.60" fill="#f6861f"/>
<rect x="287.0" y="353.20" width="28.0" height="2.70" fill="#f9a526"/>
<rect x="287.0" y="355.90" width="28.0" height="2.70" fill="#e3401b"/>
<rect x="287.0" y="358.60" width="28.0" height="4.40" fill="#f6861f"/>
<rect x="287.0" y="363.00" width="28.0" height="1.90" fill="#7d5218"/>
<rect x="287.0" y="364.90" width="28.0" height="2.70" fill="#f9a526"/>
<rect x="287.0" y="367.60" width="28.0" height="4.40" fill="#eb521e"/>
<rect x="287.0" y="372.00" width="28.0" height="1.60" fill="#7d8ca3"/>
<rect x="287.0" y="373.60" width="28.0" height="7.40" fill="#f9a526"/>
<rect x="287.0" y="381.00" width="28.0" height="3.60" fill="#f6861f"/>
<rect x="287.0" y="384.60" width="28.0" height="5.40" fill="#f9a526"/>
<rect x="316.0" y="269.20" width="28.0" height="2.60" fill="#fcc437"/>
<rect x="316.0" y="271.80" width="28.0" height="2.50" fill="#f6861f"/>
<rect x="316.0" y="274.30" width="28.0" height="2.50" fill="#e3401b"/>
<rect x="316.0" y="276.80" width="28.0" height="1.70" fill="#f6861f"/>
<rect x="316.0" y="278.50" width="28.0" height="2.50" fill="#f9a526"/>
<rect x="316.0" y="281.00" width="28.0" height="2.60" fill="#e3401b"/>
<rect x="316.0" y="283.60" width="28.0" height="1.70" fill="#f6861f"/>
<rect x="316.0" y="285.30" width="28.0" height="2.50" fill="#fcc437"/>
<rect x="316.0" y="287.80" width="28.0" height="2.20" fill="#eb521e"/>
<rect x="316.0" y="290.00" width="28.0" height="2.40" fill="#2c1408"/>
<rect x="316.0" y="292.40" width="28.0" height="6.40" fill="#f9a526"/>
<rect x="316.0" y="298.80" width="28.0" height="2.60" fill="#e3401b"/>
<rect x="316.0" y="301.40" width="28.0" height="2.50" fill="#f6861f"/>
<rect x="316.0" y="303.90" width="28.0" height="2.60" fill="#e3401b"/>
<rect x="316.0" y="306.50" width="28.0" height="2.20" fill="#f9a526"/>
<rect x="316.0" y="308.70" width="28.0" height="2.00" fill="#f6861f"/>
<rect x="316.0" y="310.70" width="28.0" height="2.50" fill="#e3401b"/>
<rect x="316.0" y="313.20" width="28.0" height="2.60" fill="#fcc437"/>
<rect x="316.0" y="315.80" width="28.0" height="3.40" fill="#eb521e"/>
<rect x="316.0" y="319.20" width="28.0" height="3.10" fill="#f6861f"/>
<rect x="316.0" y="322.30" width="28.0" height="2.20" fill="#2c1408"/>
<rect x="316.0" y="324.50" width="28.0" height="9.00" fill="#f9a526"/>
<rect x="316.0" y="333.50" width="28.0" height="1.80" fill="#e3401b"/>
<rect x="316.0" y="335.30" width="28.0" height="2.70" fill="#fcc437"/>
<rect x="316.0" y="338.00" width="28.0" height="1.70" fill="#2c1408"/>
<rect x="316.0" y="339.70" width="28.0" height="3.60" fill="#eb521e"/>
<rect x="316.0" y="343.30" width="28.0" height="4.50" fill="#f9a526"/>
<rect x="316.0" y="347.80" width="28.0" height="3.60" fill="#f6861f"/>
<rect x="316.0" y="351.40" width="28.0" height="4.50" fill="#fcc437"/>
<rect x="316.0" y="355.90" width="28.0" height="2.70" fill="#eb521e"/>
<rect x="316.0" y="358.60" width="28.0" height="4.50" fill="#f6861f"/>
<rect x="316.0" y="363.10" width="28.0" height="1.80" fill="#7d5218"/>
<rect x="316.0" y="364.90" width="28.0" height="5.40" fill="#fcc437"/>
<rect x="316.0" y="370.30" width="28.0" height="2.70" fill="#f6861f"/>
<rect x="316.0" y="373.00" width="28.0" height="1.70" fill="#7d5218"/>
<rect x="316.0" y="374.70" width="28.0" height="6.30" fill="#fcc437"/>
<rect x="316.0" y="381.00" width="28.0" height="1.80" fill="#f6861f"/>
<rect x="316.0" y="382.80" width="28.0" height="1.80" fill="#7d8ca3"/>
<rect x="316.0" y="384.60" width="28.0" height="2.70" fill="#fcc437"/>
<rect x="316.0" y="387.30" width="28.0" height="2.70" fill="#7d5218"/>
<rect x="345.0" y="269.20" width="28.5" height="11.80" fill="#f9a526"/>
<rect x="345.0" y="281.00" width="28.5" height="2.60" fill="#eb521e"/>
<rect x="345.0" y="283.60" width="28.5" height="2.60" fill="#f6861f"/>
<rect x="345.0" y="286.20" width="28.5" height="3.80" fill="#e3401b"/>
<rect x="345.0" y="290.00" width="28.5" height="2.40" fill="#2c1408"/>
<rect x="345.0" y="292.40" width="28.5" height="6.40" fill="#f6861f"/>
<rect x="345.0" y="298.80" width="28.5" height="5.10" fill="#e3401b"/>
<rect x="345.0" y="303.90" width="28.5" height="2.60" fill="#f6861f"/>
<rect x="345.0" y="306.50" width="28.5" height="3.30" fill="#f9a526"/>
<rect x="345.0" y="309.80" width="28.5" height="4.20" fill="#f6861f"/>
<rect x="345.0" y="314.00" width="28.5" height="5.20" fill="#eb521e"/>
<rect x="345.0" y="319.20" width="28.5" height="4.40" fill="#e3401b"/>
<rect x="345.0" y="323.60" width="28.5" height="3.60" fill="#f6861f"/>
<rect x="345.0" y="327.20" width="28.5" height="3.60" fill="#eb521e"/>
<rect x="345.0" y="330.80" width="28.5" height="2.70" fill="#f6861f"/>
<rect x="345.0" y="333.50" width="28.5" height="2.70" fill="#e3401b"/>
<rect x="345.0" y="336.20" width="28.5" height="1.80" fill="#fcc437"/>
<rect x="345.0" y="338.00" width="28.5" height="1.40" fill="#2c1408"/>
<rect x="345.0" y="339.40" width="28.5" height="2.10" fill="#11488f"/>
<rect x="345.0" y="341.50" width="28.5" height="3.60" fill="#eb521e"/>
<rect x="345.0" y="345.10" width="28.5" height="3.60" fill="#f6861f"/>
<rect x="345.0" y="348.70" width="28.5" height="3.60" fill="#e3401b"/>
<rect x="345.0" y="352.30" width="28.5" height="3.60" fill="#f9a526"/>
<rect x="345.0" y="355.90" width="28.5" height="2.70" fill="#eb521e"/>
<rect x="345.0" y="358.60" width="28.5" height="3.60" fill="#f9a526"/>
<rect x="345.0" y="362.20" width="28.5" height="1.80" fill="#c9b06c"/>
<rect x="345.0" y="364.00" width="28.5" height="1.80" fill="#7d5218"/>
<rect x="345.0" y="365.80" width="28.5" height="4.50" fill="#eb521e"/>
<rect x="345.0" y="370.30" width="28.5" height="3.50" fill="#f6861f"/>
<rect x="345.0" y="373.80" width="28.5" height="5.40" fill="#f9a526"/>
<rect x="345.0" y="379.20" width="28.5" height="4.50" fill="#f6861f"/>
<rect x="345.0" y="383.70" width="28.5" height="6.30" fill="#f9a526"/>
<rect x="374.5" y="269.60" width="28.5" height="2.30" fill="#fcc437"/>
<rect x="374.5" y="271.90" width="28.5" height="2.30" fill="#f6861f"/>
<rect x="374.5" y="274.20" width="28.5" height="3.10" fill="#e3401b"/>
<rect x="374.5" y="277.30" width="28.5" height="2.30" fill="#f6861f"/>
<rect x="374.5" y="279.60" width="28.5" height="2.40" fill="#f9a526"/>
<rect x="374.5" y="282.00" width="28.5" height="2.20" fill="#f6861f"/>
<rect x="374.5" y="284.20" width="28.5" height="2.30" fill="#f9a526"/>
<rect x="374.5" y="286.50" width="28.5" height="3.10" fill="#eb521e"/>
<rect x="374.5" y="289.60" width="28.5" height="3.10" fill="#2c1408"/>
<rect x="374.5" y="292.70" width="28.5" height="3.10" fill="#f6861f"/>
<rect x="374.5" y="295.80" width="28.5" height="3.80" fill="#f9a526"/>
<rect x="374.5" y="299.60" width="28.5" height="3.90" fill="#e3401b"/>
<rect x="374.5" y="303.50" width="28.5" height="2.30" fill="#f6861f"/>
<rect x="374.5" y="305.80" width="28.5" height="2.20" fill="#f9a526"/>
<rect x="374.5" y="308.00" width="28.5" height="3.00" fill="#e3401b"/>
<rect x="374.5" y="311.00" width="28.5" height="3.20" fill="#f6861f"/>
<rect x="374.5" y="314.20" width="28.5" height="3.10" fill="#fcc437"/>
<rect x="374.5" y="317.30" width="28.5" height="2.70" fill="#eb521e"/>
<rect x="374.5" y="320.00" width="28.5" height="2.70" fill="#f6861f"/>
<rect x="374.5" y="322.70" width="28.5" height="3.60" fill="#eb521e"/>
<rect x="374.5" y="326.30" width="28.5" height="3.60" fill="#f9a526"/>
<rect x="374.5" y="329.90" width="28.5" height="3.60" fill="#e3401b"/>
<rect x="374.5" y="333.50" width="28.5" height="2.70" fill="#f6861f"/>
<rect x="374.5" y="336.20" width="28.5" height="1.80" fill="#fcc437"/>
<rect x="374.5" y="338.00" width="28.5" height="1.70" fill="#2c1408"/>
<rect x="374.5" y="339.70" width="28.5" height="5.40" fill="#eb521e"/>
<rect x="374.5" y="345.10" width="28.5" height="3.60" fill="#f6861f"/>
<rect x="374.5" y="348.70" width="28.5" height="1.80" fill="#fcc437"/>
<rect x="374.5" y="350.50" width="28.5" height="1.80" fill="#7d8ca3"/>
<rect x="374.5" y="352.30" width="28.5" height="2.70" fill="#f9a526"/>
<rect x="374.5" y="355.00" width="28.5" height="3.60" fill="#e3401b"/>
<rect x="374.5" y="358.60" width="28.5" height="2.70" fill="#f6861f"/>
<rect x="374.5" y="361.30" width="28.5" height="2.70" fill="#fcc437"/>
<rect x="374.5" y="364.00" width="28.5" height="4.40" fill="#f6861f"/>
<rect x="374.5" y="368.40" width="28.5" height="1.50" fill="#7d8ca3"/>
<rect x="374.5" y="369.90" width="28.5" height="2.20" fill="#fcc437"/>
<rect x="374.5" y="372.10" width="28.5" height="3.50" fill="#f6861f"/>
<rect x="374.5" y="375.60" width="28.5" height="2.70" fill="#fcc437"/>
<rect x="374.5" y="378.30" width="28.5" height="1.80" fill="#7d5218"/>
<rect x="374.5" y="380.10" width="28.5" height="4.50" fill="#f9a526"/>
<rect x="374.5" y="384.60" width="28.5" height="5.40" fill="#f6861f"/>
<rect x="404.0" y="268.80" width="28.0" height="1.60" fill="#2c1408"/>
<rect x="404.0" y="270.40" width="28.0" height="3.80" fill="#eb521e"/>
<rect x="404.0" y="274.20" width="28.0" height="2.30" fill="#f6861f"/>
<rect x="404.0" y="276.50" width="28.0" height="2.30" fill="#e3401b"/>
<rect x="404.0" y="278.80" width="28.0" height="3.20" fill="#eb521e"/>
<rect x="404.0" y="282.00" width="28.0" height="2.20" fill="#e3401b"/>
<rect x="404.0" y="284.20" width="28.0" height="2.30" fill="#f6861f"/>
<rect x="404.0" y="286.50" width="28.0" height="3.10" fill="#eb521e"/>
<rect x="404.0" y="289.60" width="28.0" height="3.10" fill="#2c1408"/>
<rect x="404.0" y="292.70" width="28.0" height="6.10" fill="#fcc437"/>
<rect x="404.0" y="298.80" width="28.0" height="3.10" fill="#f9a526"/>
<rect x="404.0" y="301.90" width="28.0" height="2.30" fill="#f6861f"/>
<rect x="404.0" y="304.20" width="28.0" height="3.10" fill="#f9a526"/>
<rect x="404.0" y="307.30" width="28.0" height="3.90" fill="#f6861f"/>
<rect x="404.0" y="311.20" width="28.0" height="4.60" fill="#e3401b"/>
<rect x="404.0" y="315.80" width="28.0" height="3.00" fill="#f6861f"/>
<rect x="404.0" y="318.80" width="28.0" height="3.10" fill="#f9a526"/>
<rect x="404.0" y="321.90" width="28.0" height="3.50" fill="#eb521e"/>
<rect x="404.0" y="325.40" width="28.0" height="4.50" fill="#f6861f"/>
<rect x="404.0" y="329.90" width="28.0" height="2.70" fill="#e3401b"/>
<rect x="404.0" y="332.60" width="28.0" height="3.60" fill="#f6861f"/>
<rect x="404.0" y="336.20" width="28.0" height="1.80" fill="#fcc437"/>
<rect x="404.0" y="338.00" width="28.0" height="1.70" fill="#2c1408"/>
<rect x="404.0" y="339.70" width="28.0" height="3.60" fill="#eb521e"/>
<rect x="404.0" y="343.30" width="28.0" height="3.60" fill="#f6861f"/>
<rect x="404.0" y="346.90" width="28.0" height="3.60" fill="#f9a526"/>
<rect x="404.0" y="350.50" width="28.0" height="3.60" fill="#e3401b"/>
<rect x="404.0" y="354.10" width="28.0" height="3.60" fill="#f6861f"/>
<rect x="404.0" y="357.70" width="28.0" height="4.50" fill="#eb521e"/>
<rect x="404.0" y="362.20" width="28.0" height="2.70" fill="#7d5218"/>
<rect x="404.0" y="364.90" width="28.0" height="2.70" fill="#f9a526"/>
<rect x="404.0" y="367.60" width="28.0" height="2.70" fill="#f6861f"/>
<rect x="404.0" y="370.30" width="28.0" height="3.50" fill="#fcc437"/>
<rect x="404.0" y="373.80" width="28.0" height="4.50" fill="#f6861f"/>
<rect x="404.0" y="378.30" width="28.0" height="2.70" fill="#7d5218"/>
<rect x="404.0" y="381.00" width="28.0" height="3.60" fill="#fcc437"/>
<rect x="404.0" y="384.60" width="28.0" height="5.40" fill="#f6861f"/>
<rect x="287.0" y="133.60" width="28.0" height="1.50" fill="#c9b06c"/>
<rect x="287.0" y="201.50" width="28.0" height="2.30" fill="#fcc437"/>
<rect x="287.0" y="213.00" width="28.0" height="2.00" fill="#c9b06c"/>
<rect x="287.0" y="224.60" width="28.0" height="1.60" fill="#c9b06c"/>
<rect x="287.0" y="261.50" width="28.0" height="1.50" fill="#7d8ca3"/>
<rect x="316.0" y="150.00" width="28.0" height="2.00" fill="#dcc77e"/>
<rect x="316.0" y="198.50" width="28.0" height="3.80" fill="#f9a526"/>
<rect x="316.0" y="207.90" width="28.0" height="4.90" fill="#f6861f"/>
<rect x="316.0" y="217.40" width="28.0" height="1.50" fill="#7d8ca3"/>
<rect x="316.0" y="221.50" width="28.0" height="1.50" fill="#c9b06c"/>
<rect x="316.0" y="228.50" width="28.0" height="1.50" fill="#c9b06c"/>
<rect x="316.0" y="239.00" width="28.0" height="1.50" fill="#7d8ca3"/>
<rect x="316.0" y="243.00" width="28.0" height="1.60" fill="#c9b06c"/>
<rect x="345.0" y="152.30" width="28.5" height="2.20" fill="#f9a526"/>
<rect x="345.0" y="181.50" width="28.5" height="1.10" fill="#c9b06c"/>
<rect x="345.0" y="190.70" width="28.5" height="2.30" fill="#fcc437"/>
<rect x="345.0" y="216.00" width="28.5" height="1.70" fill="#c9b06c"/>
<rect x="345.0" y="218.80" width="28.5" height="2.40" fill="#f9a526"/>
<rect x="345.0" y="223.00" width="28.5" height="2.30" fill="#c9b06c"/>
<rect x="345.0" y="227.00" width="28.5" height="3.80" fill="#f6861f"/>
<rect x="345.0" y="232.20" width="28.5" height="2.30" fill="#fcc437"/>
<rect x="345.0" y="256.20" width="28.5" height="4.20" fill="#fcc437"/>
<rect x="374.5" y="185.60" width="28.5" height="1.80" fill="#c9b06c"/>
<rect x="374.5" y="193.00" width="28.5" height="2.40" fill="#fcc437"/>
<rect x="374.5" y="199.20" width="28.5" height="2.30" fill="#fcc437"/>
<rect x="374.5" y="213.00" width="28.5" height="1.70" fill="#7d8ca3"/>
<rect x="374.5" y="216.50" width="28.5" height="2.30" fill="#f9a526"/>
<rect x="374.5" y="225.30" width="28.5" height="2.30" fill="#c9b06c"/>
<rect x="374.5" y="228.50" width="28.5" height="1.90" fill="#c9b06c"/>
<rect x="374.5" y="250.70" width="28.5" height="2.30" fill="#7d8ca3"/>
<rect x="374.5" y="256.20" width="28.5" height="4.20" fill="#fcc437"/>
<rect x="404.0" y="157.00" width="28.0" height="1.50" fill="#7d8ca3"/>
<rect x="404.0" y="166.20" width="28.0" height="1.50" fill="#c9b06c"/>
<rect x="404.0" y="170.80" width="28.0" height="2.20" fill="#f9a526"/>
<rect x="404.0" y="178.50" width="28.0" height="1.20" fill="#c9b06c"/>
<rect x="404.0" y="180.30" width="28.0" height="1.20" fill="#7d8ca3"/>
<rect x="404.0" y="193.80" width="28.0" height="1.60" fill="#c9b06c"/>
<rect x="404.0" y="210.80" width="28.0" height="1.20" fill="#7d8ca3"/>
<rect x="404.0" y="217.00" width="28.0" height="1.80" fill="#c9b06c"/>
<rect x="404.0" y="223.50" width="28.0" height="2.30" fill="#fcc437"/>
<rect x="404.0" y="230.40" width="28.0" height="5.10" fill="#f9a526"/>
<rect x="404.0" y="235.50" width="28.0" height="4.50" fill="#f6861f"/>
<rect x="404.0" y="267.60" width="28.0" height="1.40" fill="#c9b06c"/>
<rect x="491.0" y="298.00" width="29.0" height="1.30" fill="#7d8ca3"/>
<rect x="287" y="98.2" width="146" height="1.9" fill="#000" opacity="0.5"/>
<rect x="287" y="122" width="233" height="1.6" fill="#000" opacity="0.7"/>
<rect x="287" y="134.4" width="146" height="1.9" fill="#000" opacity="0.5"/>
<rect x="287" y="157.9" width="233" height="1.5" fill="#000" opacity="0.6"/>
<rect x="287" y="182.5" width="233" height="1.5" fill="#000" opacity="0.5"/>
<rect x="287" y="206.3" width="233" height="1.6" fill="#000" opacity="0.6"/>
<rect x="287" y="229.5" width="233" height="1.4" fill="#000" opacity="0.4"/>
<rect x="287" y="254" width="233" height="1.8" fill="#000" opacity="0.55"/>
<rect x="287" y="268.4" width="233" height="1.2" fill="#000" opacity="0.6"/>
<rect x="287" y="290.3" width="233" height="1.8" fill="#000" opacity="0.6"/>
<rect x="433" y="312.7" width="87" height="1.4" fill="#000" opacity="0.45"/>
<rect x="287" y="312.7" width="146" height="1.4" fill="#000" opacity="0.2"/>
<rect x="287" y="338.3" width="233" height="1.6" fill="#000" opacity="0.6"/>
<rect x="287" y="363" width="233" height="1.6" fill="#000" opacity="0.45"/>
<rect x="287" y="387.6" width="233" height="1.8" fill="#000" opacity="0.55"/>
</g>
<g id="toplines" stroke-width="1.2" fill="none">
<path d="M402.8 0V22.5" stroke="#d8dcd8" stroke-width="1.5"/>
<path d="M358.5 21V28M358.5 65V81.5M343 75.5H417M417 75.5V81.5M387.5 75.5V81.5" stroke="#c8d0c8"/>
<path d="M315 76.3H343M300.5 77V81.5M329.5 77V81.5" stroke="#9aa09a"/>
<path d="M475.3 20V82M446.4 79.9H504.4M504.4 79.9V82M446.4 79.9V82" stroke="#e0703a" stroke-width="1"/>
</g>
</svg>
<div id="title" class="abs">
<div style="top:3px">2D cluster analysis using 216 genes</div>
<div style="top:19.8px">differentially in HRS cells and</div>
<div style="top:36.3px">plasma cells</div>
</div>
<div id="pbox" class="abs"><div style="padding-top:4.3px">Plasmacytoma cell<br>lines</div></div>
<div id="cbox" class="abs"><div style="padding-top:4.5px"><span>cHL cell lines</span><br><span>(B- and T-cell</span><br><span>type)</span></div></div>
</body></html>
